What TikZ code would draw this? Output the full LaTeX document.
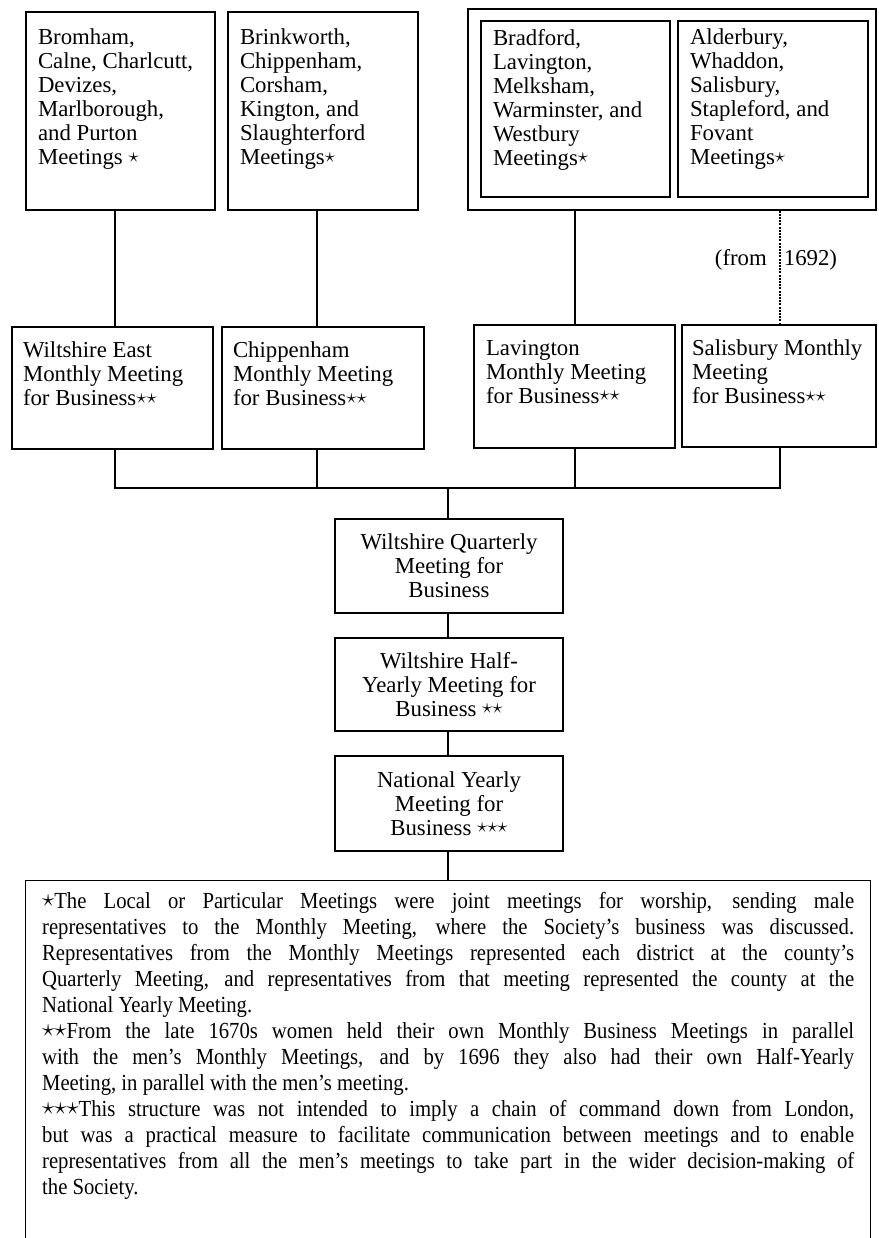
\documentclass[tikz,border=0pt]{standalone}
\usepackage{fontspec}
\setmainfont{Liberation Serif}
\newfontfamily\notefont[Ligatures=TeX,FakeStretch=0.9]{Liberation Serif}
\usepackage{graphicx}
\newcommand{\qs}{\raisebox{0.25ex}{\scalebox{1.0}{$\star$}}}

\begin{document}
\begin{tikzpicture}[x=1pt,y=-1pt,
	box/.style={draw,line width=1.3pt,inner xsep=12pt,inner ysep=17pt,font=\fontsize{22.8}{24}\selectfont},
	cbox/.style={draw,line width=1.3pt,minimum width=228pt,inner sep=0pt,align=center,font=\fontsize{22.8}{24}\selectfont},
	link/.style={line width=1.2pt}]
	\useasboundingbox (0,0) rectangle (878,1238);
	% local meetings
	\node[box] (lm1) at (120.5,111) {\parbox[c][164pt][t]{165pt}{Bromham,\\ Calne, Charlcutt,\\ Devizes,\\ Marlborough,\\ and Purton\\ Meetings \qs}};
	\node[box] (lm2) at (323,111) {\parbox[c][164pt][t]{166pt}{Brinkworth,\\ Chippenham,\\ Corsham,\\ Kington, and\\ Slaughterford\\ Meetings\qs}};
	\node[draw,line width=1.3pt,minimum width=408pt,minimum height=201pt,inner sep=0pt] (grp) at (672,109.5) {};
	\node[box,inner ysep=8pt] (lm3) at (575.5,109) {\parbox[c][160pt][t]{165pt}{Bradford,\\ Lavington,\\ Melksham,\\ Warminster, and\\ Westbury\\ Meetings\qs}};
	\node[box,inner ysep=8pt] (lm4) at (773,109) {\parbox[c][160pt][t]{166pt}{Alderbury,\\ Whaddon,\\ Salisbury,\\ Stapleford, and\\ Fovant\\ Meetings\qs}};
	\node[font=\fontsize{22.8}{24}\selectfont] (from) at (776,260) {(from\hspace{17pt}1692)};
	% monthly meetings
	\node[box,inner ysep=15pt,inner xsep=11pt] (mm1) at (112.5,388) {\parbox[c][92pt][t]{179pt}{Wiltshire East\\ Monthly Meeting\\ for Business\qs\qs}};
	\node[box,inner ysep=15pt,inner xsep=11pt] (mm2) at (323,388) {\parbox[c][92pt][t]{180pt}{Chippenham\\ Monthly Meeting\\ for Business\qs\qs}};
	\node[box,inner ysep=15pt] (mm3) at (574.5,386.5) {\parbox[c][93pt][t]{177pt}{Lavington\\ Monthly Meeting\\ for Business\qs\qs}};
	\node[box,inner ysep=15pt,inner xsep=10pt] (mm4) at (779,386) {\parbox[c][92pt][t]{174pt}{Salisbury Monthly\\ Meeting\\ for Business\qs\qs}};
	% county and national
	\node[cbox,minimum height=94pt] (qm) at (449,566) {Wiltshire Quarterly\\ Meeting for\\ Business};
	\node[cbox,minimum height=93pt] (hy) at (449,684.5) {Wiltshire Half-\\ Yearly Meeting for\\ Business \qs\qs};
	\node[cbox,minimum height=95pt] (ny) at (449,803.5) {National Yearly\\ Meeting for\\ Business \qs\qs\qs};
	% notes
	\node[draw,line width=1.3pt,anchor=north west,inner xsep=16.5pt,inner ysep=12pt] (notes) at (25,880) {\parbox[c][338pt][t]{812pt}{\notefont\fontsize{23}{26}\selectfont
		\qs The Local or Particular Meetings were joint meetings for worship, sending male\linebreak
		representatives to the Monthly Meeting, where the Society's business was discussed.\linebreak
		Representatives from the Monthly Meetings represented each district at the county's\linebreak
		Quarterly Meeting, and representatives from that meeting represented the county at the\linebreak
		National Yearly Meeting.\par
		\qs\qs From the late 1670s women held their own Monthly Business Meetings in parallel\linebreak
		with the men's Monthly Meetings, and by 1696 they also had their own Half-Yearly\linebreak
		Meeting, in parallel with the men's meeting.\par
		\qs\qs\qs This structure was not intended to imply a chain of command down from London,\linebreak
		but was a practical measure to facilitate communication between meetings and to enable\linebreak
		representatives from all the men's meetings to take part in the wider decision-making of\linebreak
		the Society.}};
	% connectors
	\coordinate (c1) at (115,0);
	\coordinate (c2) at (317,0);
	\coordinate (c3) at (575,0);
	\coordinate (c4) at (780,0);
	\coordinate (bar) at (448,488);
	\draw[link] (lm1.south -| c1) -- (mm1.north -| c1);
	\draw[link] (lm2.south -| c2) -- (mm2.north -| c2);
	\draw[link] (grp.south -| c3) -- (mm3.north -| c3);
	\draw[link,dash pattern=on 2pt off 1.2pt] (grp.south -| c4) -- (mm4.north -| c4);
	\draw[link] (mm1.south -| c1) |- (bar) -| (mm4.south -| c4);
	\draw[link] (mm2.south -| c2) -- (c2 |- bar);
	\draw[link] (mm3.south -| c3) -- (c3 |- bar);
	\draw[link] (bar) -- (bar |- qm.north);
	\draw[link] (qm.south -| bar) -- (hy.north -| bar);
	\draw[link] (hy.south -| bar) -- (ny.north -| bar);
	\draw[link] (ny.south -| bar) -- (notes.north -| bar);
\end{tikzpicture}
\end{document}
